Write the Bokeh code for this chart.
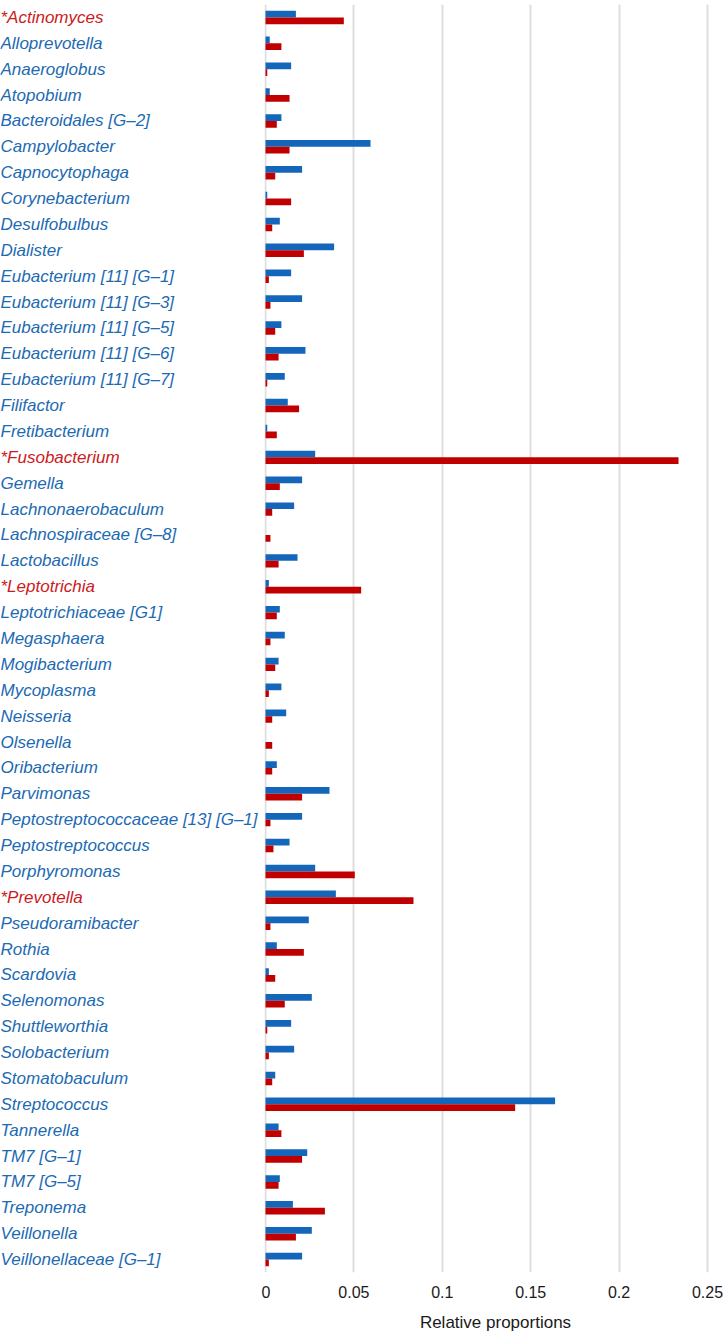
from bokeh.plotting import figure
from bokeh.models import ColumnDataSource, FactorRange, Range1d, FixedTicker
from bokeh.transform import dodge
from bokeh.layouts import row
from bokeh.core.properties import value
from bokeh.embed import file_html
from bokeh.resources import INLINE

categories = [
    "*Actinomyces", "Alloprevotella", "Anaeroglobus", "Atopobium", "Bacteroidales [G–2]",
    "Campylobacter", "Capnocytophaga", "Corynebacterium", "Desulfobulbus", "Dialister",
    "Eubacterium [11] [G–1]", "Eubacterium [11] [G–3]", "Eubacterium [11] [G–5]",
    "Eubacterium [11] [G–6]", "Eubacterium [11] [G–7]", "Filifactor", "Fretibacterium",
    "*Fusobacterium", "Gemella", "Lachnonaerobaculum", "Lachnospiraceae [G–8]",
    "Lactobacillus", "*Leptotrichia", "Leptotrichiaceae [G1]", "Megasphaera",
    "Mogibacterium", "Mycoplasma", "Neisseria", "Olsenella", "Oribacterium", "Parvimonas",
    "Peptostreptococcaceae [13] [G–1]", "Peptostreptococcus", "Porphyromonas", "*Prevotella",
    "Pseudoramibacter", "Rothia", "Scardovia", "Selenomonas", "Shuttleworthia",
    "Solobacterium", "Stomatobaculum", "Streptococcus", "Tannerella", "TM7 [G–1]",
    "TM7 [G–5]", "Treponema", "Veillonella", "Veillonellaceae [G–1]",
]

blue_values = [
    0.0172, 0.0024, 0.0145, 0.0024, 0.0090, 0.0594, 0.0207, 0.0010, 0.0081, 0.0388,
    0.0145, 0.0207, 0.0090, 0.0226, 0.0109, 0.0126, 0.0010, 0.0281, 0.0207, 0.0162,
    0.0000, 0.0181, 0.0019, 0.0081, 0.0109, 0.0074, 0.0090, 0.0117, 0.0000, 0.0064,
    0.0362, 0.0207, 0.0136, 0.0281, 0.0398, 0.0245, 0.0064, 0.0019, 0.0262, 0.0145,
    0.0162, 0.0055, 0.1638, 0.0074, 0.0236, 0.0081, 0.0155, 0.0262, 0.0207,
]

red_values = [
    0.0443, 0.0090, 0.0010, 0.0136, 0.0064, 0.0136, 0.0055, 0.0145, 0.0038, 0.0217,
    0.0019, 0.0028, 0.0055, 0.0074, 0.0010, 0.0190, 0.0064, 0.2336, 0.0081, 0.0038,
    0.0028, 0.0074, 0.0541, 0.0064, 0.0028, 0.0055, 0.0019, 0.0038, 0.0038, 0.0038,
    0.0207, 0.0028, 0.0045, 0.0505, 0.0837, 0.0028, 0.0217, 0.0055, 0.0109, 0.0010,
    0.0019, 0.0038, 0.1412, 0.0090, 0.0207, 0.0074, 0.0336, 0.0172, 0.0019,
]

tick_values = [0, 0.05, 0.1, 0.15, 0.2, 0.25]
tick_labels = ["0", "0.05", "0.1", "0.15", "0.2", "0.25"]

BLUE = "#1466bb"
RED = "#c00000"
LABEL_BLUE = "#1c6ab2"
LABEL_RED = "#cc1a22"
FONT = "Liberation Sans"

label_colors = [LABEL_RED if c.startswith("*") else LABEL_BLUE for c in categories]
src = ColumnDataSource(dict(cat=categories, blue=blue_values, red=red_values, lc=label_colors,
                            zero=[0] * len(categories), x0=[0] * len(categories)))

y_range = FactorRange(factors=list(reversed(categories)), range_padding=0)
FRAME_H = 1268
TOP = 4

# label panel
lp = figure(width=261, frame_height=FRAME_H, y_range=y_range, x_range=Range1d(0, 1),
            output_backend="svg", toolbar_location=None, min_border=0, min_border_top=TOP)
lp.axis.visible = False
lp.grid.visible = False
lp.outline_line_color = None
lp.text(x="x0", y="cat", text="cat", source=src, text_color="lc",
        text_font=value(FONT), text_font_size="17px", text_font_style="italic",
        text_align="left", text_baseline="middle")

# bar panel
PX_PER_UNIT = 1768
frame_w = 462
x_start = -1.0 / PX_PER_UNIT
x_end = x_start + frame_w / PX_PER_UNIT
p = figure(width=465, frame_height=FRAME_H, y_range=y_range, x_range=Range1d(x_start, x_end),
           output_backend="svg", toolbar_location=None,
           min_border_left=3, min_border_right=0, min_border_top=TOP)
p.outline_line_color = None
p.yaxis.visible = False
p.ygrid.visible = False
p.xgrid.ticker = FixedTicker(ticks=tick_values)
p.xgrid.grid_line_color = "#dedede"
p.xgrid.grid_line_width = 2

p.hbar(y=dodge("cat", 0.13, range=y_range), left="zero", right="blue", height=0.26,
       source=src, fill_color=BLUE, line_color=None)
p.hbar(y=dodge("cat", -0.13, range=y_range), left="zero", right="red", height=0.26,
       source=src, fill_color=RED, line_color=None)

xa = p.xaxis[0]
xa.ticker = FixedTicker(ticks=tick_values)
xa.major_label_overrides = {t: l for t, l in zip(tick_values, tick_labels)}
xa.axis_line_color = None
xa.major_tick_line_color = None
xa.minor_tick_line_color = None
xa.major_tick_out = 0
xa.major_tick_in = 0
xa.major_label_standoff = 13
xa.major_label_text_font = FONT
xa.major_label_text_font_size = "16px"
xa.major_label_text_color = "#1a1a1a"
xa.axis_label = "Relative proportions"
xa.axis_label_standoff = 12
xa.axis_label_text_font = FONT
xa.axis_label_text_font_size = "17px"
xa.axis_label_text_font_style = "normal"
xa.axis_label_text_color = "#1a1a1a"

layout = row(lp, p)
open("out.html", "w").write(file_html(layout, INLINE))
